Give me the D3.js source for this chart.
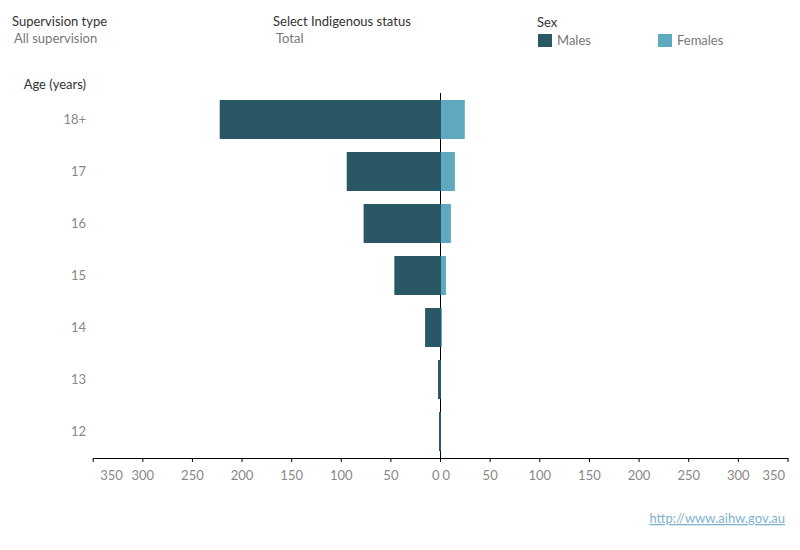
<!DOCTYPE html>
<html>
<head>
<meta charset="utf-8">
<script src="https://cdn.jsdelivr.net/npm/d3@7"></script>
<style>
  body { margin: 0; background: #fff; }
  svg { font-family: Lato, "Open Sans", sans-serif; }
  .hdr { font-size: 13px; fill: #333; }
  .sub { font-size: 13px; fill: #777; }
  .tick-lbl { font-size: 13px; fill: #888; }
  .link { font-size: 13px; fill: #7db3cf; text-decoration: underline; }
</style>
</head>
<body>
<svg id="chart" width="800" height="550"></svg>
<script>
// age groups, top to bottom
const ages = ["18+", "17", "16", "15", "14", "13", "12"];
// number of young people under supervision
const males   = [222, 94, 77, 46, 15, 2, 1];
const females = [25, 15, 11, 6, 2, 0, 0];
const tickValues = [0, 50, 100, 150, 200, 250, 300, 350];

const MALE = "#295765", FEMALE = "#5fa9bf";

const svg = d3.select("#chart");
const CX = 440, AXIS_Y = 458;

// two mirrored x scales sharing the zero line
const xMale = d3.scaleLinear().domain([0, 350]).range([CX, 92.7]);
const xFemale = d3.scaleLinear().domain([0, 350]).range([CX, 787.5]);
const y = d3.scaleBand().domain(ages).range([93.5, 457.5])
  .paddingInner(0.25).paddingOuter(0.125);

// ── header filters & legend ──
svg.append("text").attr("class", "hdr").attr("x", 12).attr("y", 26).text("Supervision type");
svg.append("text").attr("class", "sub").attr("x", 14).attr("y", 43).text("All supervision");
svg.append("text").attr("class", "hdr").attr("x", 273).attr("y", 26).text("Select Indigenous status");
svg.append("text").attr("class", "sub").attr("x", 276).attr("y", 43).text("Total");
svg.append("text").attr("class", "hdr").attr("x", 537).attr("y", 27).text("Sex");

const legend = [["Males", MALE, 538], ["Females", FEMALE, 658]];
legend.forEach(([name, col, lx]) => {
  svg.append("rect").attr("x", lx).attr("y", 34).attr("width", 14).attr("height", 13).attr("fill", col);
  svg.append("text").attr("class", "sub").attr("x", lx + 19).attr("y", 45).text(name);
});

// ── y axis title and category labels ──
svg.append("text").attr("class", "hdr").attr("x", 86).attr("y", 89)
  .attr("text-anchor", "end").text("Age (years)");

svg.selectAll("text.age")
  .data(ages)
  .join("text")
    .attr("class", "age tick-lbl")
    .attr("x", 86)
    .attr("y", d => y(d) + y.bandwidth() / 2)
    .attr("dy", "0.35em")
    .attr("text-anchor", "end")
    .text(d => d);

// zero line (bars are painted over it)
svg.append("line")
  .attr("x1", CX + 0.5).attr("x2", CX + 0.5)
  .attr("y1", 93).attr("y2", AXIS_Y)
  .attr("stroke", "#000").attr("stroke-width", 1);

// ── bars ──
svg.selectAll("rect.male")
  .data(ages)
  .join("rect")
    .attr("class", "male")
    .attr("x", (d, i) => xMale(males[i]))
    .attr("y", d => y(d))
    .attr("width", (d, i) => CX - xMale(males[i]) + 1)
    .attr("height", y.bandwidth())
    .attr("fill", MALE);

svg.selectAll("rect.female")
  .data(ages)
  .join("rect")
    .attr("class", "female")
    .attr("x", CX + 1)
    .attr("y", d => y(d))
    .attr("width", (d, i) => Math.max(0, xFemale(females[i]) - CX - 1))
    .attr("height", y.bandwidth())
    .attr("fill", FEMALE);

// ── x axes (mirrored) ──
function drawAxis(scale, side) {
  const g = svg.append("g").attr("transform", `translate(0,${AXIS_Y})`);
  g.call(d3.axisBottom(scale).tickValues(tickValues).tickSize(4).tickSizeOuter(0).tickPadding(9));
  g.select(".domain").attr("stroke", "#000");
  g.selectAll(".tick line").attr("stroke", "#000");
  g.selectAll(".tick text")
    .attr("class", "tick-lbl")
    .attr("fill", null)
    .attr("text-anchor", d => {
      if (d === 0) return side === "left" ? "end" : "start";
      if (d === 350) return side === "left" ? "start" : "end";
      return "middle";
    })
    .attr("dx", d => {
      if (d === 0) return side === "left" ? -1 : 2;
      if (d === 350) return side === "left" ? 7 : -3;
      return 0;
    });
  g.attr("font-family", null).attr("font-size", null);
}
drawAxis(xMale, "left");
drawAxis(xFemale, "right");

// source link
svg.append("text").attr("class", "link").attr("x", 785).attr("y", 523)
  .attr("text-anchor", "end").text("http://www.aihw.gov.au");
</script>
</body>
</html>
